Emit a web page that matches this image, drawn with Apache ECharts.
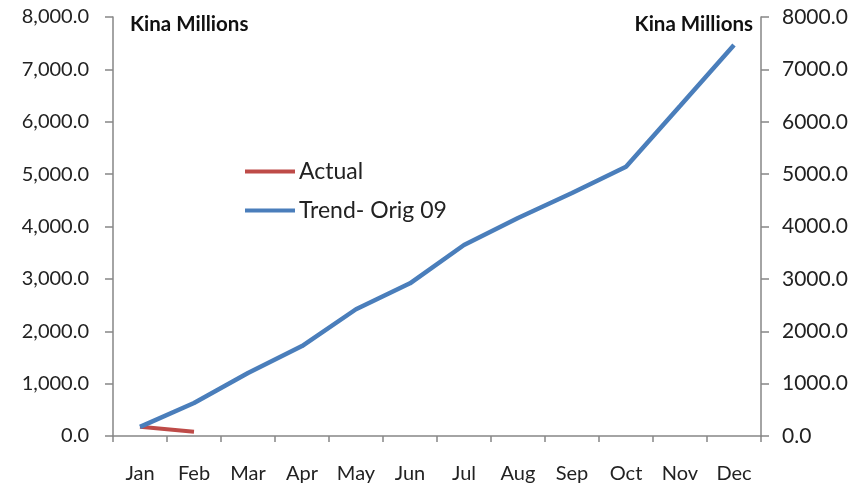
<!DOCTYPE html>
<html><head><meta charset="utf-8">
<script src="https://cdn.jsdelivr.net/npm/echarts@6/dist/echarts.min.js"></script>
<style>html,body{margin:0;padding:0;background:#fff}#c{width:860px;height:488px}</style>
</head><body><div id="c"></div>
<script>
const months = ['Jan','Feb','Mar','Apr','May','Jun','Jul','Aug','Sep','Oct','Nov','Dec'];
const actual = [175, 82];
const trend = [175, 630, 1203, 1718, 2420, 2915, 3647, 4162, 4640, 5142, 6300, 7465];
const yMin = 0, yMax = 8000, yStep = 1000;
const unitLabel = 'Kina Millions';

const chart = echarts.init(document.getElementById('c'), null, {renderer:'canvas'});
const axisColor = '#868686';
const font = 'Lato, "Open Sans", sans-serif';
chart.setOption({
  animation: false,
  backgroundColor: '#fff',
  title: [
    {text: unitLabel, left: 130, top: 14, padding: 0, textStyle:{fontFamily: font, fontSize: 20.5, fontWeight: 'bold', color:'#111'}},
    {text: unitLabel, right: 107, top: 14, padding: 0, textStyle:{fontFamily: font, fontSize: 20.5, fontWeight: 'bold', color:'#111'}}
  ],
  grid: {left: 113, right: 99, top: 17, bottom: 52},
  legend: {
    orient: 'vertical', left: 245, top: 160, padding: 0, itemWidth: 50, itemHeight: 4, itemGap: 16,
    icon: 'rect',
    textStyle: {fontFamily: font, fontSize: 23, color:'#222', padding:[0,0,0,-1]},
    data: ['Actual','Trend- Orig 09']
  },
  xAxis: {
    type: 'category', data: months, boundaryGap: true,
    axisLine: {lineStyle:{color: axisColor, width: 1.5}},
    axisTick: {show: true, interval: 0, length: 6, inside: false, lineStyle:{color: axisColor, width: 1.5}},
    axisLabel: {interval: 0, margin: 28, fontFamily: font, fontSize: 20, color:'#222'}
  },
  yAxis: [
    {type:'value', min:yMin, max:yMax, interval:yStep, position:'left',
     axisLine:{show:true, lineStyle:{color:axisColor, width:1.5}},
     axisTick:{show:true, length:8, lineStyle:{color:axisColor, width:1.5}},
     splitLine:{show:false},
     axisLabel:{margin: 24, fontFamily: font, fontSize: 20, color:'#222',
       formatter: v => v.toLocaleString('en-US',{minimumFractionDigits:1, maximumFractionDigits:1})}},
    {type:'value', min:yMin, max:yMax, interval:yStep, position:'right',
     axisLine:{show:true, lineStyle:{color:axisColor, width:1.5}},
     axisTick:{show:true, length:8, lineStyle:{color:axisColor, width:1.5}},
     splitLine:{show:false},
     axisLabel:{margin: 21, fontFamily: font, fontSize: 21, color:'#222',
       formatter: v => v.toFixed(1)}}
  ],
  series: [
    {name:'Actual', type:'line', data: actual, symbol:'none', yAxisIndex:0,
     color:'#BE4B48', lineStyle:{width:4, color:'#BE4B48'}, z:3},
    {name:'Trend- Orig 09', type:'line', data: trend, symbol:'none', yAxisIndex:0,
     color:'#4A7EBB', lineStyle:{width:4.5, color:'#4A7EBB'}, z:4}
  ]
});
</script></body></html>
